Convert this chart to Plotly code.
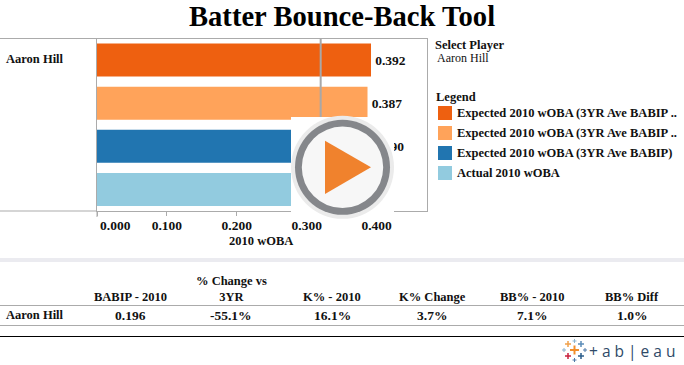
import plotly.graph_objects as go

W, H = 684, 365
series = ["Expected 2010 wOBA (3YR Ave BABIP ..", "Expected 2010 wOBA (3YR Ave BABIP ..",
          "Expected 2010 wOBA (3YR Ave BABIP)", "Actual 2010 wOBA"]
cats = ["Optimistic", "Middle", "Average", "Actual"]
values = [0.392, 0.387, 0.390, 0.291]
colors = ["#EE6010", "#FFA35A", "#2175B0", "#92CBDF"]
ref_line = 0.32
player = "Aaron Hill"
ticks = [0.0, 0.1, 0.2, 0.3, 0.4]
table_heads = ["BABIP - 2010", "% Change vs<br>3YR", "K% - 2010", "K% Change", "BB% - 2010", "BB% Diff"]
table_vals = ["0.196", "-55.1%", "16.1%", "3.7%", "7.1%", "1.0%"]
table_x = [130, 231, 332, 432, 532, 632]
FONT = "Liberation Serif"
GR = "#ABABAB"
NUM = 13.5

def px(x): return x / W
def py(y): return 1 - y / H

fig = go.Figure()
fig.add_trace(go.Bar(y=cats, x=values, orientation="h", marker=dict(color=colors, line_width=0),
                     texttemplate="<b>\u200a%{x:.3f}</b>", textposition="outside", cliponaxis=False,
                     textfont=dict(family=FONT, size=NUM, color="#111"), showlegend=False, hoverinfo="skip"))

shapes, ann = [], []

def line(x0, y0, x1, y1, color=GR, w=1, layer="above"):
    shapes.append(dict(type="line", xref="paper", yref="paper", x0=px(x0), x1=px(x1), y0=py(y0), y1=py(y1),
                       line=dict(color=color, width=w), layer=layer))

def text(x, y, s, size=12, anchor="center", color="#111", bold=True, family=FONT, va="middle"):
    ann.append(dict(xref="paper", yref="paper", x=px(x), y=py(y), text=f"<b>{s}</b>" if bold else s,
                    showarrow=False, xanchor=anchor, yanchor=va, align="center",
                    font=dict(family=family, size=size, color=color), borderpad=0, borderwidth=0))

def rect(x0, y0, x1, y1, fill):
    shapes.append(dict(type="rect", xref="paper", yref="paper", x0=px(x0), x1=px(x1), y0=py(y0), y1=py(y1),
                       fillcolor=fill, line_width=0, layer="above"))

def circle(cx, cy, r, fill):
    shapes.append(dict(type="circle", xref="paper", yref="paper", x0=px(cx - r), x1=px(cx + r),
                       y0=py(cy - r), y1=py(cy + r), fillcolor=fill, line_width=0, layer="above"))

# reference line on the data axis
shapes.append(dict(type="line", xref="x", yref="paper", x0=ref_line, x1=ref_line, y0=py(38.5), y1=py(211),
                   line=dict(color="#A8A8A8", width=2), layer="above"))
# left pane extension of frame
line(0, 38.5, 97, 38.5)
line(0, 211, 97, 211)
line(97, 211, 97, 217)

# title
text(342, 16.5, "Batter Bounce-Back Tool", size=28.6, color="#000")
text(6, 59, player, size=12.5, anchor="left")
# 0.000 label shifted into plot like Tableau
text(115, 225, "0.000", size=NUM)
text(261, 240.5, "2010 wOBA", size=12.5)

# side panel
text(435, 45, "Select Player", size=12.5, anchor="left")
text(437, 58, player, size=12, anchor="left", bold=False)
text(436, 97, "Legend", size=12.5, anchor="left")
for i, s in enumerate(series):
    y = 113 + i * 20
    rect(438, y - 7, 452, y + 7, colors[i])
    text(457, y, s, size=12.5, anchor="left")

# table
rect(0, 258, 684, 262, "#EBEBF0")
line(0, 305.5, 684, 305.5)
line(0, 325.5, 684, 325.5)
line(0, 336.5, 684, 336.5, color="#000")
text(6, 315, player, size=12.5, anchor="left")
for x, h, v in zip(table_x, table_heads, table_vals):
    text(x, 304, h, size=12.5, va="bottom")
    text(x, 315, v, size=NUM)

# play overlay
rect(291, 117, 394, 219, "#FFFFFF")
circle(342.5, 167.3, 51.5, "#EBEBEB")
circle(342.5, 167.3, 47.5, "#85878B")
circle(342.5, 167.3, 40.7, "#F7F7F7")
shapes.append(dict(type="path", xref="paper", yref="paper", fillcolor="#F0822D", line_width=0, layer="above",
                   path=f"M {px(325)} {py(140.7)} L {px(325)} {py(194)} L {px(371)} {py(167.3)} Z"))

# tableau logo
def cross(cx, cy, r, c, w=1.5):
    line(cx - r, cy, cx + r, cy, color=c, w=w)
    line(cx, cy - r, cx, cy + r, color=c, w=w)
cross(574.5, 350, 4.5, "#F28E2B", 2)
cross(568, 344, 3, "#F0A04B")
cross(581, 344, 3, "#5B8DB8")
cross(568, 356, 3, "#C8203C")
cross(581, 356, 3, "#2B5C8A")
cross(574.5, 341, 2, "#8CB4CF", 1)
cross(574.5, 360, 2, "#4E79A7", 1)
cross(564, 350, 2, "#8CB4CF", 1)
cross(585, 350, 2, "#4E79A7", 1)
text(632, 351, "+ a b | e a u", size=15.5, color="#2F4A68", bold=False, family="Open Sans")

fig.update_layout(
    width=W, height=H, margin=dict(l=0, r=0, t=0, b=0), paper_bgcolor="white", plot_bgcolor="white",
    bargap=0.235, shapes=shapes, annotations=ann,
    xaxis=dict(domain=[px(97), px(427)], range=[0, 330 / 699], tickvals=ticks,
               ticktext=["" if t == 0 else f"<b>{t:.3f}</b>" for t in ticks],
               ticks="outside", ticklen=4, tickcolor=GR, showgrid=False, zeroline=False,
               showline=True, linecolor=GR, mirror=True, ticklabelstandoff=-2,
               tickfont=dict(family=FONT, size=NUM, color="#111")),
    yaxis=dict(domain=[py(211), py(38.5)], autorange=False, range=[3.5, -0.5], categoryorder="array",
               categoryarray=cats, showticklabels=False, ticks="", showgrid=False, zeroline=False,
               showline=True, linecolor=GR, mirror=True),
    font=dict(family=FONT),
)
fig.write_html("out.html", config=dict(displayModeBar=False),
               post_script="document.body.style.margin='0';document.body.style.overflow='hidden';")
